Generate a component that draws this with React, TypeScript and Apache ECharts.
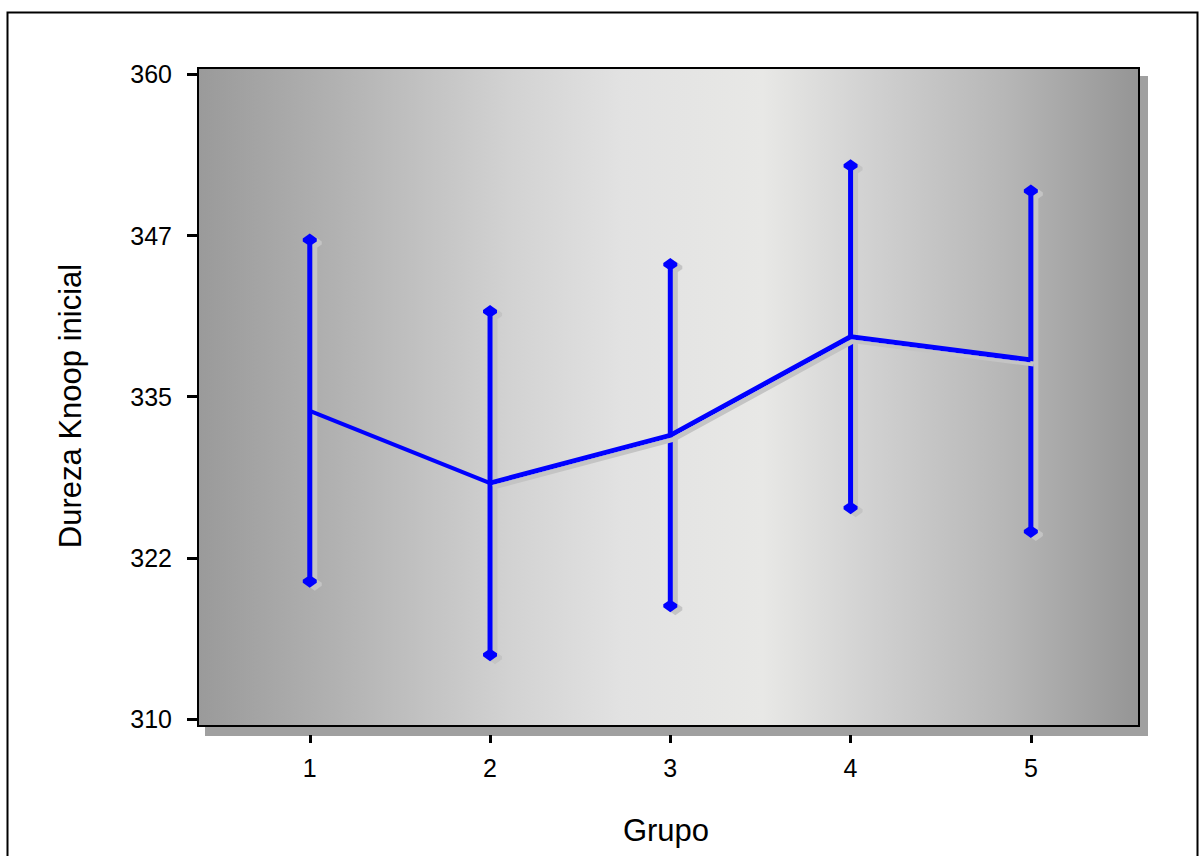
import React, { useEffect, useRef } from "react";
import * as echarts from "echarts";

const groups = [1, 2, 3, 4, 5];
const groupLabels = ["1", "2", "3", "4", "5"];
const means = [333.9, 328.3, 332.0, 339.65, 337.85];
const lows = [320.65, 314.95, 318.75, 326.35, 324.5];
const highs = [347.2, 341.65, 345.3, 352.95, 351.0];
const yTickValues = [310, 322.5, 335, 347.5, 360];
const yTickLabels = ["310", "322", "335", "347", "360"];
const xAxisName = "Grupo";
const yAxisName = "Dureza Knoop inicial";

const FONT = "'Liberation Sans', Arial, sans-serif";
const BLUE = "#0000ff";
const SHADOW = "#c4c4c4";

export default function App() {
  const ref = useRef<HTMLDivElement>(null);
  useEffect(() => {
    if (!ref.current) return;
    const chart = echarts.init(ref.current, null, { renderer: "svg" });
    const meanPts = groups.map((g, i) => [g, means[i]]);
    const errData = groups.map((g, i) => [g, lows[i], highs[i]]);

    const capUp = (cx: number, y: number, dx = 0, dy = 0) => [
      [cx + dx, y - 6 + dy],
      [cx + 7 + dx, y - 1 + dy],
      [cx + 7 + dx, y + 2 + dy],
      [cx + 2.5 + dx, y + 5 + dy],
      [cx - 2.5 + dx, y + 5 + dy],
      [cx - 7 + dx, y + 2 + dy],
      [cx - 7 + dx, y - 1 + dy],
    ];
    const capDown = (cx: number, y: number, dx = 0, dy = 0) => [
      [cx + dx, y + 6 + dy],
      [cx + 7 + dx, y + 1 + dy],
      [cx + 7 + dx, y - 2 + dy],
      [cx + 2.5 + dx, y - 5 + dy],
      [cx - 2.5 + dx, y - 5 + dy],
      [cx - 7 + dx, y - 2 + dy],
      [cx - 7 + dx, y + 1 + dy],
    ];

    chart.setOption({
      animation: false,
      textStyle: { fontFamily: FONT },
      grid: {
        left: 198,
        top: 68,
        width: 941,
        height: 658,
        show: true,
        borderColor: "#000",
        borderWidth: 2,
        backgroundColor: new echarts.graphic.LinearGradient(0, 0, 1, 0, [
          { offset: 0, color: "#9a9a9a" },
          { offset: 0.15, color: "#b2b2b2" },
          { offset: 0.33, color: "#d2d2d2" },
          { offset: 0.45, color: "#e2e2e2" },
          { offset: 0.6, color: "#e8e8e6" },
          { offset: 0.72, color: "#d0d0d0" },
          { offset: 0.86, color: "#b6b6b6" },
          { offset: 1, color: "#959595" },
        ]),
        shadowColor: "#a0a0a0",
        shadowBlur: 0,
        shadowOffsetX: 8,
        shadowOffsetY: 9,
      },
      xAxis: {
        type: "value",
        min: 0.38,
        max: 5.6,
        offset: 9,
        axisLine: { show: false },
        splitLine: { show: false },
        axisTick: {
          show: true,
          length: 8,
          customValues: groups,
          lineStyle: { color: "#000", width: 3 },
        },
        axisLabel: {
          customValues: groups,
          margin: 20,
          fontSize: 25,
          color: "#000",
          fontFamily: FONT,
          formatter: (v: number) => groupLabels[groups.indexOf(Math.round(v))] ?? "",
        },
      },
      yAxis: {
        type: "value",
        min: 309.457,
        max: 360.504,
        axisLine: { show: false },
        splitLine: { show: false },
        axisTick: {
          show: true,
          length: 11,
          customValues: yTickValues,
          lineStyle: { color: "#000", width: 3 },
        },
        axisLabel: {
          customValues: yTickValues,
          margin: 26,
          fontSize: 25,
          color: "#000",
          fontFamily: FONT,
          formatter: (v: number) => {
            let best = 0;
            yTickValues.forEach((t, i) => {
              if (Math.abs(t - v) < Math.abs(yTickValues[best] - v)) best = i;
            });
            return yTickLabels[best];
          },
        },
      },
      graphic: [
        {
          type: "rect",
          z: 100,
          silent: true,
          shape: { x: 7.5, y: 12.5, width: 1190, height: 900 },
          style: { fill: "none", stroke: "#000", lineWidth: 2 },
        },
        {
          type: "text",
          x: 70,
          y: 406,
          rotation: Math.PI / 2,
          style: {
            text: yAxisName,
            fontSize: 31,
            fontFamily: FONT,
            fill: "#000",
            align: "center",
            verticalAlign: "middle",
          },
        },
        {
          type: "text",
          x: 666,
          y: 830,
          style: {
            text: xAxisName,
            fontSize: 31,
            fontFamily: FONT,
            fill: "#000",
            align: "center",
            verticalAlign: "middle",
          },
        },
      ],
      series: [
        {
          type: "custom",
          z: 2,
          data: errData,
          clip: false,
          renderItem: (params: any, api: any) => {
            const x = api.value(0);
            const pLo = api.coord([x, api.value(1)]);
            const pHi = api.coord([x, api.value(2)]);
            const cx = pLo[0];
            const sx = 5;
            const sy = 3;
            return {
              type: "group",
              children: [
                {
                  type: "line",
                  shape: { x1: cx + sx, y1: pHi[1] + sy, x2: cx + sx, y2: pLo[1] + sy },
                  style: { stroke: SHADOW, lineWidth: 5 },
                },
                { type: "polygon", shape: { points: capUp(cx, pHi[1], sx, sy) }, style: { fill: SHADOW } },
                { type: "polygon", shape: { points: capDown(cx, pLo[1], sx, sy) }, style: { fill: SHADOW } },
                {
                  type: "line",
                  shape: { x1: cx, y1: pHi[1], x2: cx, y2: pLo[1] },
                  style: { stroke: BLUE, lineWidth: 5 },
                },
                { type: "polygon", shape: { points: capUp(cx, pHi[1]) }, style: { fill: BLUE } },
                { type: "polygon", shape: { points: capDown(cx, pLo[1]) }, style: { fill: BLUE } },
              ],
            };
          },
        },
        {
          type: "line",
          z: 3,
          data: meanPts.slice(0, 2),
          symbol: "none",
          lineStyle: { color: BLUE, width: 4 },
        },
        {
          type: "line",
          z: 3,
          data: meanPts.slice(1),
          symbol: "none",
          lineStyle: {
            color: BLUE,
            width: 5,
            shadowColor: SHADOW,
            shadowBlur: 0,
            shadowOffsetX: 3,
            shadowOffsetY: 4,
          },
        },
      ],
    });
    return () => chart.dispose();
  }, []);
  return (
    <div
      ref={ref}
      style={{ position: "absolute", left: 0, top: 0, width: 1202, height: 856, background: "#fff" }}
    />
  );
}
